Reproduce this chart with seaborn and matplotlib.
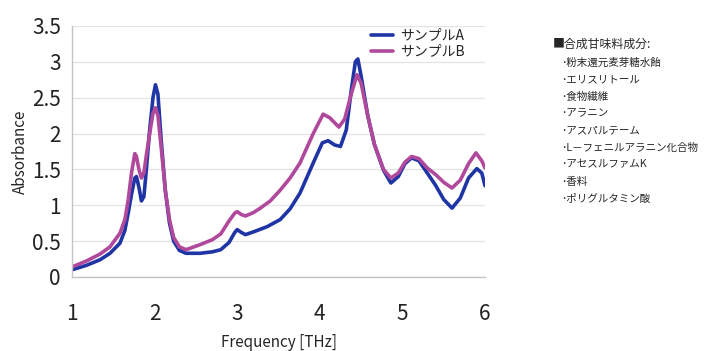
import numpy as np
import pandas as pd
import matplotlib
matplotlib.use("Agg")
import matplotlib.pyplot as plt
import seaborn as sns
from matplotlib import font_manager

# 吸光度スペクトル (読み取り値)
freq_a = [1.00, 1.17, 1.34, 1.46, 1.58, 1.64, 1.68, 1.72, 1.76, 1.78, 1.81, 1.84,
          1.87, 1.90, 1.94, 1.98, 2.01, 2.04, 2.08, 2.13, 2.18, 2.23, 2.30, 2.38,
          2.55, 2.70, 2.80, 2.90, 2.97, 3.00, 3.05, 3.10, 3.20, 3.36, 3.52, 3.64,
          3.76, 3.92, 4.03, 4.10, 4.18, 4.25, 4.32, 4.38, 4.43, 4.46, 4.50, 4.58,
          4.66, 4.77, 4.86, 4.95, 5.03, 5.11, 5.20, 5.30, 5.40, 5.50, 5.60, 5.70,
          5.80, 5.90, 5.96, 6.00]
abs_a = [0.10, 0.16, 0.24, 0.33, 0.47, 0.65, 0.89, 1.15, 1.38, 1.40, 1.25, 1.06,
         1.12, 1.50, 2.05, 2.50, 2.68, 2.55, 1.90, 1.20, 0.75, 0.50, 0.37, 0.33,
         0.33, 0.35, 0.38, 0.48, 0.62, 0.66, 0.62, 0.59, 0.63, 0.70, 0.80, 0.95,
         1.17, 1.59, 1.87, 1.90, 1.84, 1.82, 2.05, 2.60, 3.00, 3.04, 2.80, 2.25,
         1.85, 1.49, 1.31, 1.40, 1.58, 1.66, 1.62, 1.45, 1.28, 1.08, 0.96, 1.10,
         1.38, 1.51, 1.45, 1.27]

freq_b = [1.00, 1.17, 1.34, 1.46, 1.58, 1.64, 1.68, 1.72, 1.76, 1.78, 1.81, 1.84,
          1.87, 1.90, 1.94, 1.98, 2.01, 2.04, 2.08, 2.13, 2.18, 2.23, 2.30, 2.38,
          2.55, 2.70, 2.80, 2.90, 2.97, 3.00, 3.05, 3.10, 3.20, 3.28, 3.40, 3.52,
          3.64, 3.76, 3.92, 4.04, 4.12, 4.23, 4.30, 4.38, 4.45, 4.50, 4.58, 4.66,
          4.77, 4.86, 4.95, 5.03, 5.11, 5.20, 5.30, 5.40, 5.50, 5.60, 5.70, 5.80,
          5.89, 5.96, 6.00]
abs_b = [0.14, 0.22, 0.32, 0.42, 0.61, 0.80, 1.07, 1.45, 1.72, 1.68, 1.50, 1.38,
         1.45, 1.70, 2.00, 2.28, 2.36, 2.25, 1.80, 1.20, 0.80, 0.55, 0.42, 0.38,
         0.45, 0.52, 0.60, 0.78, 0.89, 0.91, 0.87, 0.85, 0.90, 0.96, 1.06, 1.21,
         1.38, 1.59, 2.00, 2.27, 2.22, 2.09, 2.20, 2.55, 2.82, 2.70, 2.25, 1.85,
         1.50, 1.38, 1.45, 1.60, 1.68, 1.65, 1.52, 1.43, 1.32, 1.24, 1.35, 1.58,
         1.73, 1.62, 1.52]

series_names = ["サンプルA", "サンプルB"]
series_colors = ["#2035a5", "#b0489c"]

x_ticks = [1, 2, 3, 4, 5, 6]
y_ticks = [0, 0.5, 1, 1.5, 2, 2.5, 3, 3.5]
y_ticklabels = ["0", "0.5", "1", "1.5", "2", "2.5", "3", "3.5"]

ingredient_title = "■合成甘味料成分:"
ingredients = ["粉末還元麦芽糖水飴", "エリスリトール", "食物繊維", "アラニン",
               "アスパルテーム", "L－フェニルアラニン化合物", "アセスルファムK",
               "香料", "ポリグルタミン酸"]

df = pd.concat([
    pd.DataFrame({"freq": freq_a, "abs": abs_a, "sample": series_names[0]}),
    pd.DataFrame({"freq": freq_b, "abs": abs_b, "sample": series_names[1]}),
])

sns.set_theme(style="white")
plt.rcParams["font.family"] = ["Noto Sans CJK JP", "DejaVu Sans"]

# 目盛り数字は細めの書体で (なければ Noto のまま)
installed = {f.name for f in font_manager.fontManager.ttflist}
narrow = "Liberation Sans Narrow" if "Liberation Sans Narrow" in installed else "Noto Sans CJK JP"

fig = plt.figure(figsize=(7.04, 3.51), dpi=100)
ax = fig.add_axes([0.1023, 0.211, 0.5867, 0.715])

sns.lineplot(data=df, x="freq", y="abs", hue="sample", hue_order=series_names,
             palette=series_colors, sort=False, linewidth=2.6, ax=ax)

ax.set_xlim(1, 6)
ax.set_ylim(0, 3.5)
ax.set_xticks(x_ticks)
ax.set_yticks(y_ticks)
ax.set_yticklabels(y_ticklabels)
ax.yaxis.grid(True, color="#e4e4e4", linewidth=0.9)
ax.set_axisbelow(True)
for side in ["top", "right"]:
    ax.spines[side].set_visible(False)
for side in ["left", "bottom"]:
    ax.spines[side].set_color("#c4c4c4")
    ax.spines[side].set_linewidth(1.0)
ax.tick_params(axis="x", direction="in", length=6, color="#c4c4c4",
               pad=19, labelsize=15)
ax.tick_params(axis="y", length=0, pad=8, labelsize=15)
for lab in ax.get_xticklabels() + ax.get_yticklabels():
    lab.set_fontfamily(narrow)
    lab.set_color("#222222")

ax.set_xlabel("Frequency [THz]", fontsize=11)
ax.xaxis.set_label_coords(0.5, -0.26)
ax.xaxis.label.set_va("center")
ax.set_ylabel("Absorbance", fontsize=11, labelpad=2)

leg = ax.legend(loc="upper right", bbox_to_anchor=(0.98, 1.04), frameon=False,
                fontsize=10, handlelength=1.6, handletextpad=0.5,
                labelspacing=0.15)

# 右側の成分リスト
fig.text(0.785, 0.875, ingredient_title, fontsize=8.6, va="center", ha="left")
for i, name in enumerate(ingredients):
    fig.text(0.797, 0.822 - i * 0.0485, "･" + name, fontsize=7.6,
             va="center", ha="left")

fig.savefig("out.png", dpi=100)
